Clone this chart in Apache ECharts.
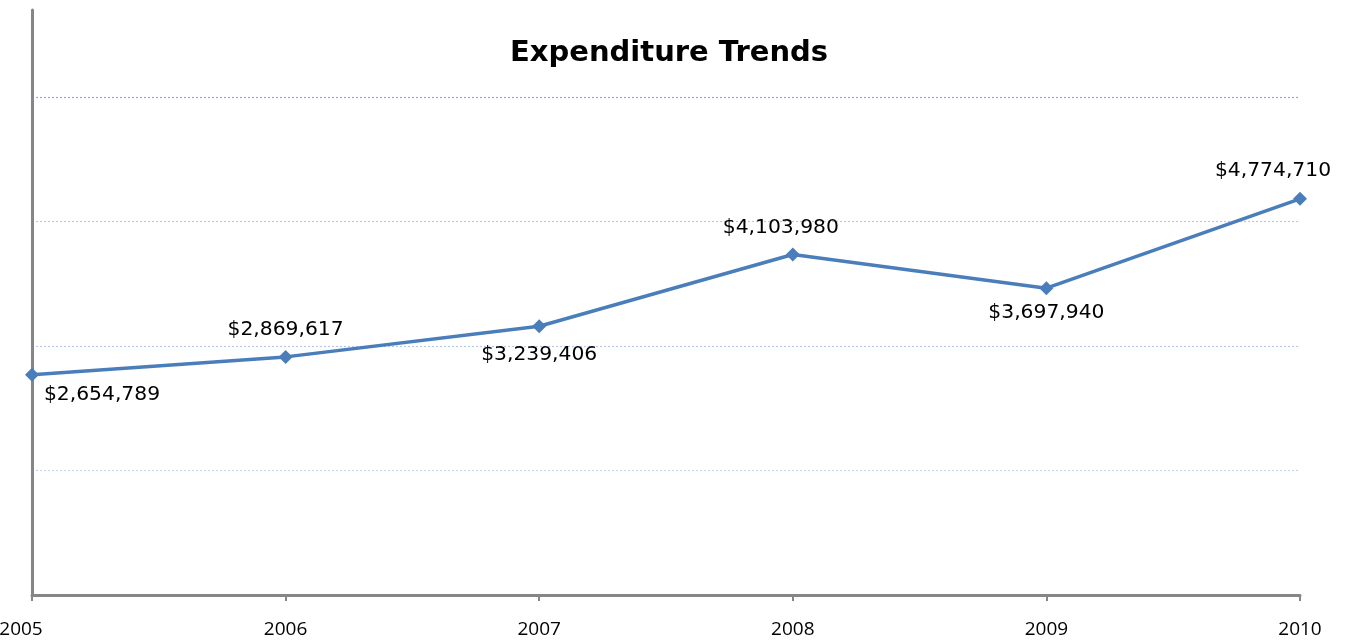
<!DOCTYPE html>
<html>
<head>
<meta charset="utf-8">
<script src="https://cdn.jsdelivr.net/npm/echarts@6/dist/echarts.min.js"></script>
<style>html,body{margin:0;padding:0;background:#fff}#c{width:1346px;height:640px}</style>
</head>
<body>
<div id="c"></div>
<script>
const titleText = 'Expenditure Trends';
const years = ['2005', '2006', '2007', '2008', '2009', '2010'];
const expenditure = [2654789, 2869617, 3239406, 4103980, 3697940, 4774710];
const labelSide = ['bottom', 'top', 'bottom', 'top', 'bottom', 'top'];
const labelShiftX = [70, 0, 0, -12, 0, -27];
const labelShiftY = [-7, 0, 2, 0, -2, -1];

const chart = echarts.init(document.getElementById('c'));
const fmt = v => '$' + v.toLocaleString('en-US');
chart.setOption({
  animation: false,
  backgroundColor: '#fff',
  title: {
    text: titleText, left: 505, top: 34,
    textStyle: { fontFamily: 'DejaVu Sans', fontWeight: 'bold', fontSize: 29, color: '#000' }
  },
  grid: { left: 32, right: 46, top: 10, bottom: 45, containLabel: false, outerBoundsMode: 'none' },
  xAxis: {
    type: 'category',
    data: years.map((y, i) => i === 0 ? { value: y, textStyle: { padding: [0, 22, 0, 0] } } : y),
    boundaryGap: false,
    axisLine: { lineStyle: { color: '#868686', width: 3 } },
    axisTick: { show: true, length: 6, alignWithLabel: true, lineStyle: { color: '#868686', width: 2 } },
    axisLabel: { color: '#000', fontFamily: 'Open Sans', fontSize: 19, margin: 25 },
    splitLine: { show: false }
  },
  yAxis: {
    type: 'value', min: 0, max: 7050000, interval: 1500000,
    axisLine: { show: true, lineStyle: { color: '#868686', width: 3 } },
    axisTick: { show: false },
    axisLabel: { show: false },
    splitLine: {
      show: true, showMaxLine: false,
      lineStyle: { type: [2, 2], width: 1.2, color: ['#c6d4ec', '#c6d4ec', '#b8c9e8', '#b8c9e8', '#8eaadb', 'rgba(0,0,0,0)'] }
    }
  },
  series: [{
    type: 'line',
    data: expenditure.map((v, i) => ({
      value: v,
      label: { position: labelSide[i], offset: [labelShiftX[i], labelShiftY[i]] }
    })),
    symbol: 'diamond', symbolSize: 14,
    lineStyle: { color: '#4a7ebb', width: 3.5 },
    itemStyle: { color: '#4a7ebb' },
    label: {
      show: true, distance: 10, color: '#000',
      fontFamily: 'DejaVu Sans', fontSize: 20.3,
      formatter: p => fmt(p.value)
    }
  }]
});
</script>
</body>
</html>
